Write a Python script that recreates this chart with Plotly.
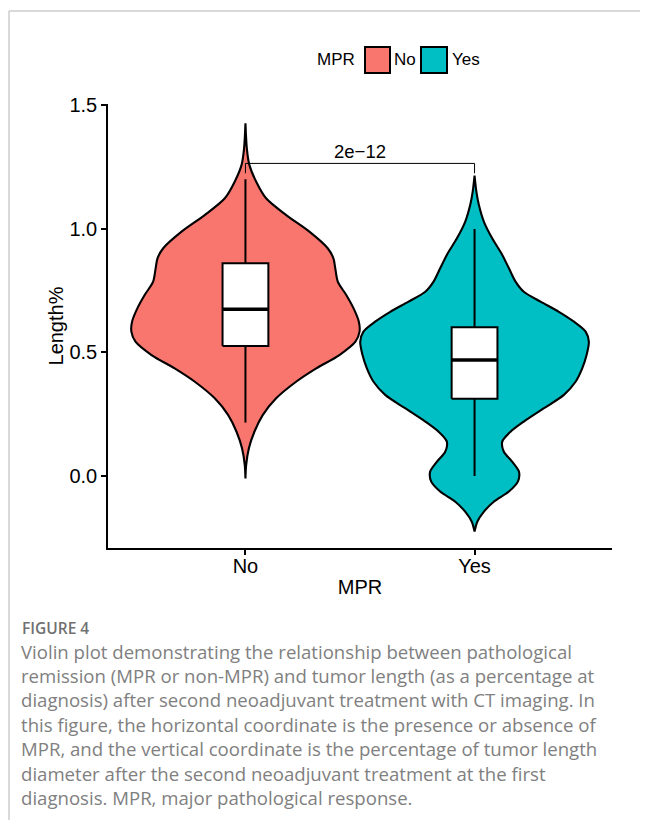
import plotly.graph_objects as go

# ---------------- data ----------------
categories = ["No", "Yes"]
colors = ["#F8766D", "#00BFC4"]

# violin outline: value levels and half-widths (in category units)
no_y = [1.426, 1.325, 1.258, 1.190, 1.123, 1.055, 0.988, 0.921, 0.880, 0.840, 0.786,
        0.732, 0.678, 0.624, 0.584, 0.543, 0.489, 0.435, 0.381, 0.314, 0.247, 0.179,
        0.112, 0.044, -0.010]
no_hw = [0.0, 0.006, 0.017, 0.047, 0.090, 0.178, 0.279, 0.359, 0.384, 0.392, 0.403,
         0.440, 0.472, 0.495, 0.498, 0.480, 0.410, 0.309, 0.221, 0.134, 0.076, 0.039,
         0.015, 0.003, 0.0]

yes_y = [1.215, 1.150, 1.096, 1.028, 0.961, 0.894, 0.840, 0.786, 0.745, 0.705, 0.664,
         0.624, 0.584, 0.543, 0.489, 0.435, 0.381, 0.328, 0.274, 0.220, 0.179, 0.139,
         0.098, 0.058, 0.017, -0.023, -0.063, -0.104, -0.144, -0.185, -0.225]
yes_hw = [0.0, 0.008, 0.019, 0.041, 0.077, 0.121, 0.150, 0.179, 0.215, 0.288, 0.368,
          0.434, 0.485, 0.499, 0.489, 0.470, 0.441, 0.390, 0.303, 0.215, 0.157, 0.121,
          0.128, 0.164, 0.194, 0.189, 0.150, 0.084, 0.041, 0.012, 0.0]

# box statistics
whisker_low = [0.216, 0.000]
q1 = [0.526, 0.3125]
median = [0.674, 0.469]
q3 = [0.860, 0.601]
whisker_high = [1.200, 0.999]

p_label = "2e\u221212"
bracket_y = 1.264
bracket_tip = 0.04

yticks = [0.0, 0.5, 1.0, 1.5]
ytick_text = ["0.0", "0.5", "1.0", "1.5"]

caption_title = "FIGURE 4"
caption_lines = [
    "Violin plot demonstrating the relationship between pathological",
    "remission (MPR or non-MPR) and tumor length (as a percentage at",
    "diagnosis) after second neoadjuvant treatment with CT imaging. In",
    "this figure, the horizontal coordinate is the presence or absence of",
    "MPR, and the vertical coordinate is the percentage of tumor length",
    "diameter after the second neoadjuvant treatment at the first",
    "diagnosis. MPR, major pathological response.",
]

# ---------------- layout geometry (screen pixels) ----------------
SCREEN_W, SCREEN_H = 648, 820
OFF = 8  # page body margin
L, R, T, B = 108, 612, 104, 548  # plot area in screen pixels
BOX_W = 0.2
FONT = "Liberation Sans, Arial, sans-serif"


def px_x(x):
    return (x - L) / (R - L)


def px_y(y):
    return (B - y) / (B - T)


fig = go.Figure()

violins = [(no_y, no_hw), (yes_y, yes_hw)]
for i, (vy, vhw) in enumerate(violins):
    c = i + 1
    xs = [c + w for w in vhw][::-1] + [c - w for w in vhw]
    ys = list(vy)[::-1] + list(vy)
    xs.append(xs[0])
    ys.append(ys[0])
    fig.add_trace(go.Scatter(
        x=xs, y=ys, mode="lines", fill="toself", fillcolor=colors[i],
        line=dict(color="black", width=2.1, shape="spline", smoothing=0.8),
        hoverinfo="skip", showlegend=False, name=categories[i]))

for i in range(len(categories)):
    c = i + 1
    fig.add_trace(go.Scatter(
        x=[c, c, None, c, c], y=[whisker_low[i], q1[i], None, q3[i], whisker_high[i]],
        mode="lines", line=dict(color="black", width=2),
        hoverinfo="skip", showlegend=False))
    fig.add_trace(go.Scatter(
        x=[c - BOX_W / 2, c + BOX_W / 2, c + BOX_W / 2, c - BOX_W / 2, c - BOX_W / 2],
        y=[q1[i], q1[i], q3[i], q3[i], q1[i]],
        mode="lines", fill="toself", fillcolor="white",
        line=dict(color="black", width=2),
        hoverinfo="skip", showlegend=False))
    fig.add_trace(go.Scatter(
        x=[c - BOX_W / 2, c + BOX_W / 2], y=[median[i], median[i]],
        mode="lines", line=dict(color="black", width=3.6),
        hoverinfo="skip", showlegend=False))

# significance bracket
fig.add_trace(go.Scatter(
    x=[1, 1, 2, 2],
    y=[bracket_y - bracket_tip, bracket_y, bracket_y, bracket_y - bracket_tip],
    mode="lines", line=dict(color="black", width=1),
    hoverinfo="skip", showlegend=False))

annotations = [
    dict(x=1.5, y=bracket_y, xref="x", yref="y", text=p_label, showarrow=False,
         yanchor="bottom", yshift=-1, font=dict(family=FONT, size=18.5, color="black")),
]

# manual legend
shapes = []
annotations.append(dict(x=px_x(336), y=px_y(60), xref="paper", yref="paper", text="MPR",
                        showarrow=False, xanchor="center", yanchor="middle",
                        font=dict(family=FONT, size=17, color="black")))
legend_boxes = [(365, 390), (421, 447)]
legend_text_x = [392, 450]
for i, cat in enumerate(categories):
    x0, x1 = legend_boxes[i]
    shapes.append(dict(type="rect", xref="paper", yref="paper",
                       x0=px_x(x0), x1=px_x(x1), y0=px_y(73), y1=px_y(47),
                       fillcolor=colors[i], line=dict(color="black", width=2)))
    annotations.append(dict(x=px_x(legend_text_x[i]), y=px_y(60), xref="paper", yref="paper",
                            text=cat, showarrow=False, xanchor="left", yanchor="middle",
                            font=dict(family=FONT, size=17, color="black")))

# page frame lines
shapes.append(dict(type="line", xref="paper", yref="paper", x0=px_x(9), x1=px_x(SCREEN_W + 5),
                   y0=px_y(11), y1=px_y(11), line=dict(color="#cccccc", width=1.5)))
shapes.append(dict(type="line", xref="paper", yref="paper", x0=px_x(9), x1=px_x(9),
                   y0=px_y(11), y1=px_y(SCREEN_H + 5), line=dict(color="#cccccc", width=1.5)))

# caption
CAP_FONT = "Open Sans, Lato, sans-serif"
annotations.append(dict(x=px_x(20), y=px_y(628), xref="paper", yref="paper",
                        text=caption_title, showarrow=False, xanchor="left", yanchor="middle",
                        font=dict(family=CAP_FONT, size=15.5, color="#707070", weight=600)))
for k, line in enumerate(caption_lines):
    annotations.append(dict(x=px_x(19), y=px_y(651 + k * 24.4), xref="paper", yref="paper",
                            text=line, showarrow=False, xanchor="left", yanchor="middle",
                            font=dict(family=CAP_FONT, size=18.6, color="#808080")))

fig.update_layout(
    width=SCREEN_W - OFF, height=SCREEN_H - OFF,
    margin=dict(l=L - OFF, r=SCREEN_W - R, t=T - OFF, b=SCREEN_H - B),
    paper_bgcolor="white", plot_bgcolor="white",
    showlegend=False,
    shapes=shapes, annotations=annotations,
    font=dict(family=FONT, color="black"),
    xaxis=dict(range=[0.4, 2.6], tickvals=[1, 2], ticktext=categories,
               showline=True, linecolor="black", linewidth=1.6,
               ticks="outside", ticklen=5, tickwidth=1.6, tickcolor="black",
               ticklabelstandoff=-6,
               showgrid=False, zeroline=False,
               tickfont=dict(family=FONT, size=20, color="black"),
               title=dict(text="MPR", standoff=4, font=dict(family=FONT, size=20, color="black"))),
    yaxis=dict(range=[(476 - 548) / 247.3, (476 - 104) / 247.3],
               tickvals=yticks, ticktext=ytick_text,
               showline=True, linecolor="black", linewidth=1.6,
               ticks="outside", ticklen=5, tickwidth=1.6, tickcolor="black",
               showgrid=False, zeroline=False,
               tickfont=dict(family=FONT, size=20, color="black"),
               title=dict(text="Length%", standoff=0, font=dict(family=FONT, size=20, color="black"))),
)

fig.write_html("out.html")
